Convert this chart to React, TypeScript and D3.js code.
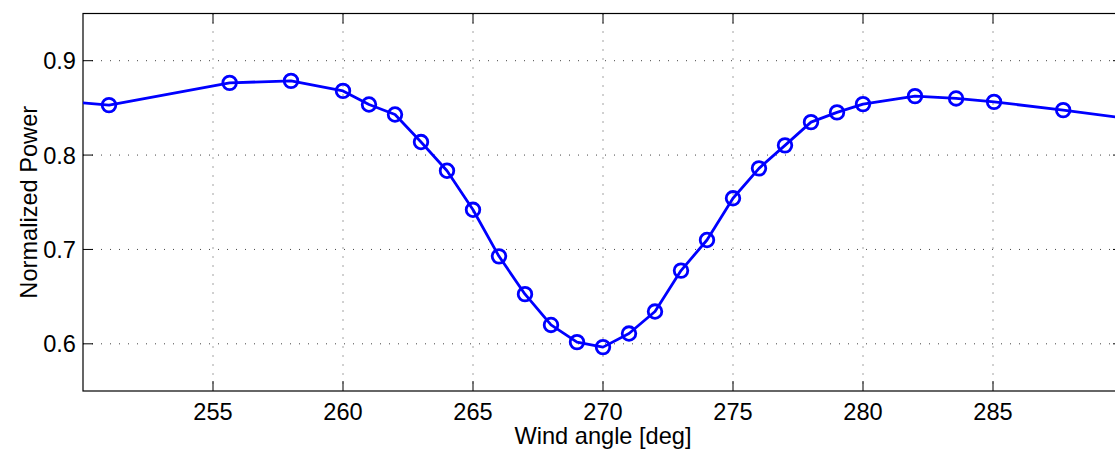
import React from "react";
import * as d3 from "d3";

const angles = [248.3, 251, 255.64, 258, 260, 261, 262, 263, 264, 265, 266, 267, 268, 269, 270, 271, 272, 273, 274, 275, 276, 277, 278, 279, 280, 282, 283.58, 285.04, 287.7, 290.4];
const power = [0.8594, 0.8529, 0.8765, 0.8786, 0.868, 0.8536, 0.843, 0.8138, 0.7834, 0.742, 0.6927, 0.6526, 0.62, 0.6018, 0.5965, 0.6109, 0.6342, 0.6776, 0.71, 0.7542, 0.7859, 0.8103, 0.8349, 0.8452, 0.854, 0.8624, 0.86, 0.8564, 0.8476, 0.838];
const xTicks = [255, 260, 265, 270, 275, 280, 285];
const yTicks = [0.6, 0.7, 0.8, 0.9];
const xDomain = [250, 290];
const yDomain = [0.55, 0.95];

export default function App() {
  const W = 1115, H = 450;
  const left = 83, top = 13.5, right = 1123, bottom = 391;
  const x = d3.scaleLinear().domain(xDomain).range([left, right]);
  const y = d3.scaleLinear().domain(yDomain).range([bottom, top]);
  const pts = angles.map((a, i) => [a, power[i]] as [number, number]);
  const line = d3.line<[number, number]>().x(d => x(d[0])).y(d => y(d[1]));
  const font = "'Liberation Sans', Arial, Helvetica, sans-serif";
  const tickLen = 10;
  const fs = 23.6;
  return (
    <svg width={W} height={H} style={{ position: "absolute", left: 0, top: 0, background: "#fff" }} fontFamily={font}>
      <defs>
        <clipPath id="plotclip">
          <rect x={left} y={top} width={right - left} height={bottom - top} />
        </clipPath>
      </defs>
      <rect x={0} y={0} width={W} height={H} fill="#fff" />
      {xTicks.map(t => (
        <line key={"gx" + t} x1={x(t)} x2={x(t)} y1={top} y2={bottom} stroke="#444" strokeWidth={1} strokeDasharray="1 8" />
      ))}
      {yTicks.map(t => (
        <line key={"gy" + t} x1={left} x2={right} y1={y(t)} y2={y(t)} stroke="#444" strokeWidth={1} strokeDasharray="1 8" />
      ))}
      {xTicks.map(t => (
        <g key={"tx" + t}>
          <line x1={x(t)} x2={x(t)} y1={bottom} y2={bottom - tickLen} stroke="#000" strokeWidth={1} />
          <line x1={x(t)} x2={x(t)} y1={top} y2={top + tickLen} stroke="#000" strokeWidth={1} />
          <text x={x(t)} y={420} textAnchor="middle" fontSize={fs} fill="#000">{t}</text>
        </g>
      ))}
      {yTicks.map(t => (
        <g key={"ty" + t}>
          <line x1={left} x2={left + tickLen} y1={y(t)} y2={y(t)} stroke="#000" strokeWidth={1} />
          <line x1={right} x2={right - tickLen} y1={y(t)} y2={y(t)} stroke="#000" strokeWidth={1} />
          <text x={76} y={y(t)} dy="0.36em" textAnchor="end" fontSize={fs} fill="#000">{t.toFixed(1)}</text>
        </g>
      ))}
      <rect x={left} y={top} width={right - left} height={bottom - top} fill="none" stroke="#000" strokeWidth={1.2} />
      <g clipPath="url(#plotclip)">
        <path d={line(pts) || ""} fill="none" stroke="#0000ff" strokeWidth={2.8} strokeLinejoin="round" />
        {pts.map((p, i) => (
          <circle key={"c" + i} cx={x(p[0])} cy={y(p[1])} r={6.8} fill="none" stroke="#0000ff" strokeWidth={2.8} />
        ))}
      </g>
      <text x={603} y={444} textAnchor="middle" fontSize={fs} fill="#000">Wind angle [deg]</text>
      <text transform={`translate(36.5, ${(top + bottom) / 2}) rotate(-90)`} textAnchor="middle" fontSize={fs} fill="#000">Normalized Power</text>
    </svg>
  );
}
